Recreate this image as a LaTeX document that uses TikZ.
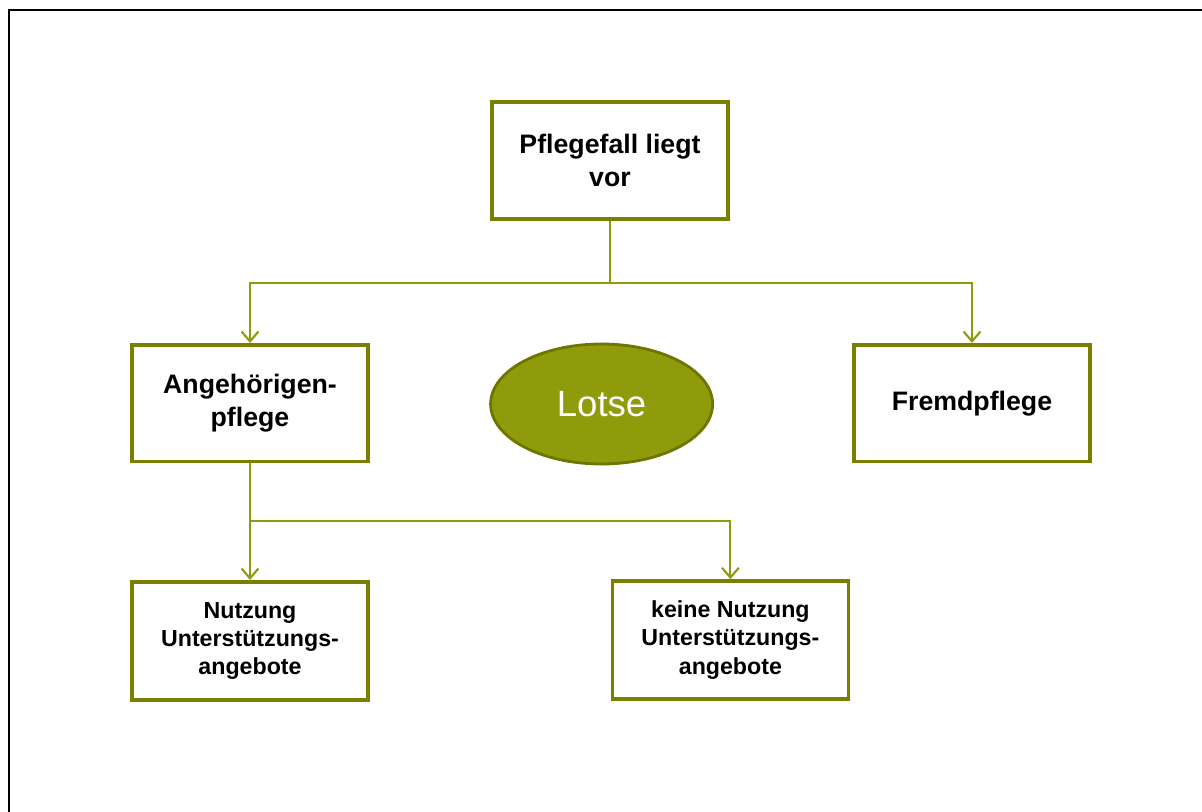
\documentclass[tikz,border=0pt]{standalone}
\usepackage{fontspec}
\setmainfont{Liberation Sans}
\usetikzlibrary{arrows.meta,shapes.geometric}
\definecolor{boxolive}{HTML}{7A7F00}
\definecolor{lineolive}{HTML}{8E9B0C}
\definecolor{lotsefill}{HTML}{8F9B0A}
\definecolor{lotsedraw}{HTML}{6F7600}
\begin{document}
\begin{tikzpicture}[
    box/.style={draw=boxolive, line width=2.6pt, fill=white, align=center,
      minimum width=5.9cm, minimum height=2.92cm, inner sep=2pt,
      font=\bfseries\fontsize{19}{23}\selectfont},
    smallbox/.style={box, minimum height=2.95cm,
      font=\bfseries\fontsize{16.5}{20}\selectfont},
    conn/.style={draw=lineolive, line width=1.5pt},
    arr/.style={conn, -{Straight Barb[length=7pt,width=12pt,line width=1.5pt]}}
  ]
  \useasboundingbox (0,0) rectangle (30.05,-20.3);
  % frame (only top and left edge visible)
  \draw[line width=1.4pt] (0.225,-20.3) -- (0.225,-0.25) -- (30.05,-0.25);

  \node[box] (pflegefall) at (15.25,-4.01) {Pflegefall liegt\\vor};
  \node[box] (angehoerige) at (6.25,-10.08) {Angehörigen-\\pflege};
  \node[box] (fremd) at (24.3,-10.08) {Fremdpflege};
  \node[ellipse, draw=lotsedraw, line width=2pt, fill=lotsefill, text=white,
    minimum width=5.55cm, minimum height=3.0cm, inner sep=0pt,
    font=\fontsize{26}{30}\selectfont] (lotse) at (15.04,-10.1) {Lotse};
  \node[smallbox] (nutzung) at (6.25,-16.02) {Nutzung\\Unterstützungs-\\angebote};
  \node[smallbox] (keine) at (18.26,-16.0) {keine Nutzung\\Unterstützungs-\\angebote};

  % branches
  \coordinate (split1) at (15.25,-7.075);
  \coordinate (split2) at (6.25,-13.025);
  \draw[conn] (pflegefall.south) -- (split1);
  \draw[arr] (split1) -| (angehoerige.north);
  \draw[arr] (split1) -| (fremd.north);
  \draw[arr] (angehoerige.south) -- (nutzung.north);
  \draw[arr] (split2) -| (keine.north);
\end{tikzpicture}
\end{document}
